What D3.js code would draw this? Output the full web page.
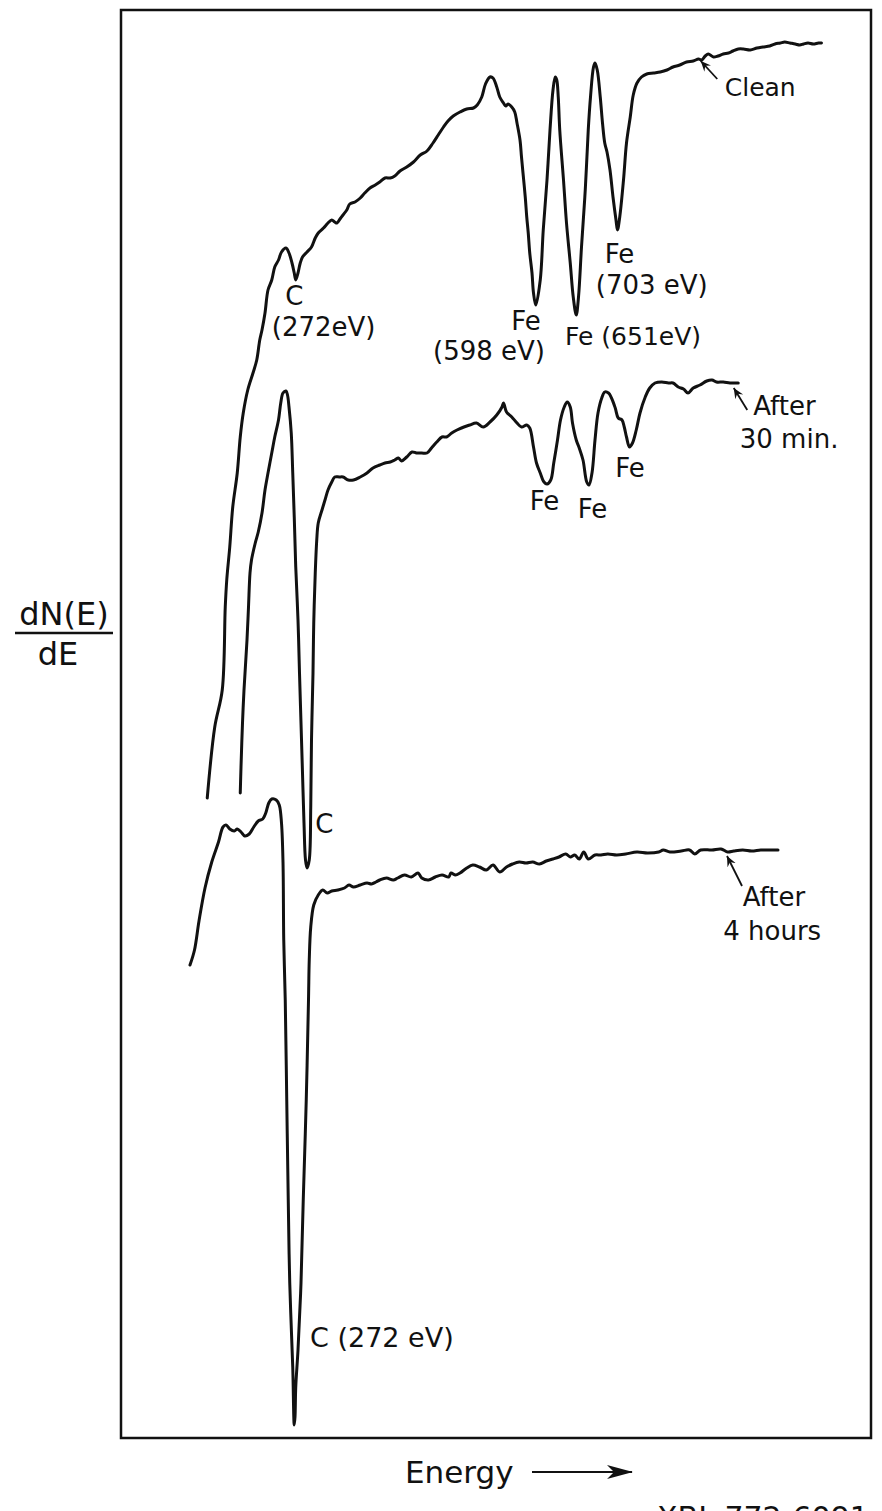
<!DOCTYPE html>
<html>
<head>
<meta charset="utf-8">
<script src="https://cdn.jsdelivr.net/npm/d3@7"></script>
<style>
  body { margin: 0; background: #fff; }
  svg { display: block; }
  text { font-family: "DejaVu Sans", sans-serif; fill: #111; }
</style>
</head>
<body>
<div class="chart"></div>
<script>
// Auger spectra, dN(E)/dE (arbitrary units, curves offset) vs energy (eV)
// values
const clean = [[155,64.0],[165,71.1],[175,74.8],[179,83.1],[181,85.8],[185,89.1],[189,93.1],[195,96.5],[199,100.1],[203,102.5],[209,104.8],[216,106.5],[221,107.8],[225,109.8],[228,110.8],[232,112.5],[236,114.8],[241,115.8],[245,117.1],[250,117.8],[254,118.6],[260,119.0],[264,118.5],[268,117.5],[271,116.5],[273,115.8],[276,116.5],[279,117.5],[282,118.1],[288,118.6],[294,119.1],[299,120.0],[303,120.5],[310,121.0],[316,121.5],[321,121.8],[325,121.6],[328,121.5],[332,121.9],[336,122.3],[341,122.8],[345,123.4],[352,123.6],[359,124.0],[365,124.5],[372,125.0],[379,125.3],[385,125.6],[392,126.0],[399,126.0],[405,126.2],[412,126.7],[421,127.1],[430,127.6],[439,128.3],[448,128.7],[456,129.5],[463,130.3],[470,131.1],[476,131.7],[483,132.2],[492,132.6],[501,132.9],[510,133.0],[515,133.3],[521,134.1],[526,135.4],[532,136.1],[536,136.0],[541,135.1],[545,134.1],[550,133.5],[553,133.2],[556,133.4],[561,133.1],[565,132.6],[568,131.5],[572,129.8],[574,128.1],[576,126.5],[579,124.1],[581,122.1],[583,120.5],[585,118.5],[588,116.5],[590,114.5],[593,113.3],[599,115.8],[603,120.8],[608,125.8],[612,130.8],[616,134.8],[619,136.1],[621,135.8],[623,134.1],[625,130.8],[630,125.8],[634,121.5],[639,117.5],[643,114.1],[647,112.3],[650,114.1],[654,119.1],[659,124.8],[663,130.8],[666,134.1],[670,137.1],[672,137.5],[675,136.8],[679,134.1],[682,131.5],[685,129.5],[688,128.6],[692,126.8],[696,124.1],[700,121.8],[702,120.8],[705,122.1],[710,125.8],[714,129.5],[719,132.1],[723,134.3],[728,135.5],[734,136.1],[741,136.4],[750,136.5],[759,136.6],[768,136.8],[776,137.1],[785,137.3],[794,137.6],[803,137.7],[810,137.9],[814,137.8],[819,138.2],[823,138.4],[830,138.1],[836,138.2],[843,138.4],[850,138.5],[856,138.7],[863,138.9],[870,138.9],[879,138.8],[888,139.0],[896,139.1],[905,139.2],[912,139.4],[919,139.5],[925,139.6],[932,139.5],[939,139.4],[945,139.3],[950,139.4],[956,139.5],[963,139.4],[970,139.5],[974,139.5]];

const after30 = [[199,64.5],[200,67.1],[202,71.5],[204,74.8],[208,79.8],[210,83.1],[212,86.5],[214,87.8],[219,89.5],[223,90.6],[228,92.5],[232,94.8],[236,96.5],[241,98.5],[245,100.1],[250,101.8],[253,103.5],[256,104.5],[260,104.7],[262,104.3],[264,103.1],[267,100.5],[269,96.5],[271,92.1],[273,87.1],[276,81.8],[278,76.5],[280,71.5],[282,66.5],[284,61.5],[286,57.8],[288,57.0],[291,57.8],[293,63.1],[294,69.8],[296,76.5],[297,81.5],[299,86.5],[301,89.8],[303,91.5],[308,92.8],[312,93.8],[316,94.8],[321,95.6],[325,96.1],[331,96.1],[336,96.1],[343,95.8],[350,95.8],[359,96.1],[368,96.5],[376,97.0],[385,97.3],[392,97.5],[399,97.6],[405,97.8],[410,98.0],[414,97.7],[421,98.1],[428,98.6],[434,98.5],[441,98.5],[448,98.5],[454,99.0],[461,99.6],[468,100.1],[474,100.1],[481,100.5],[488,100.8],[494,101.0],[501,101.2],[505,101.3],[514,101.5],[523,101.1],[532,101.6],[541,102.3],[548,103.1],[550,103.5],[554,102.6],[561,102.1],[568,101.5],[574,101.1],[581,101.3],[585,101.0],[590,99.1],[594,97.5],[599,96.5],[604,95.6],[608,95.4],[613,95.8],[617,97.5],[622,99.8],[626,101.8],[631,103.1],[635,103.6],[639,103.1],[642,101.5],[647,99.8],[651,99.0],[656,97.8],[661,95.6],[664,95.3],[668,96.5],[672,99.8],[676,102.5],[681,104.0],[685,104.6],[690,104.5],[694,104.0],[699,103.0],[703,102.0],[708,101.8],[711,101.1],[714,100.1],[718,99.1],[722,99.5],[727,100.8],[732,102.5],[739,104.1],[745,105.0],[752,105.5],[761,105.6],[770,105.5],[776,105.5],[783,105.1],[790,104.9],[796,104.5],[803,105.0],[812,105.3],[821,105.7],[828,105.8],[834,105.6],[843,105.6],[852,105.5],[861,105.5],[863,105.5]];

const after4h = [[132,47.3],[138,48.8],[144,51.7],[152,55.0],[161,57.6],[170,59.6],[176,61.1],[180,61.3],[185,60.9],[191,60.7],[195,60.9],[200,60.6],[205,60.2],[211,60.4],[217,61.1],[223,61.7],[229,61.9],[233,62.5],[237,63.5],[241,63.9],[247,63.8],[251,63.3],[254,61.5],[256,57.6],[257,49.8],[259,43.8],[261,33.8],[263,23.8],[265,15.5],[269,7.1],[271,1.3],[272,2.1],[273,5.1],[276,8.8],[280,15.5],[283,23.8],[287,33.8],[290,43.8],[291,47.8],[293,51.1],[297,53.3],[303,54.3],[309,54.8],[315,54.5],[321,54.7],[329,54.8],[338,55.0],[344,55.3],[350,55.1],[359,55.3],[368,55.5],[374,55.4],[380,55.6],[385,55.8],[394,56.0],[403,55.8],[409,56.0],[418,56.3],[427,56.1],[436,56.5],[441,56.0],[450,55.8],[459,56.1],[468,56.3],[477,56.1],[480,56.5],[486,56.3],[492,56.5],[501,57.0],[509,57.3],[518,57.1],[527,56.8],[536,57.3],[545,56.6],[554,57.1],[562,57.4],[571,57.6],[580,57.5],[589,57.6],[598,57.4],[607,57.7],[616,57.9],[624,58.1],[633,58.4],[639,58.1],[645,58.3],[651,57.9],[657,58.6],[663,57.9],[672,58.3],[680,58.3],[689,58.4],[701,58.3],[713,58.4],[728,58.6],[742,58.5],[757,58.6],[763,58.8],[772,58.6],[787,58.7],[798,58.8],[805,58.4],[813,58.8],[828,58.8],[840,58.9],[849,58.6],[857,58.7],[869,58.8],[881,58.7],[893,58.8],[905,58.8],[916,58.8]];

// peak labels: [energy, signal, text, anchor, font size]
const labels = [
  [271, 113.3, "C", "middle", 26],
  [241, 110.2, "(272eV)", "start", 26],
  [580, 110.8, "Fe", "middle", 26],
  [456, 107.8, "(598 eV)", "start", 26],
  [632, 109.3, "Fe (651eV)", "start", 25],
  [685, 117.5, "Fe", "start", 26],
  [673, 114.4, "(703 eV)", "start", 26],
  [845, 134.2, "Clean", "start", 25],
  [883, 102.3, "After", "start", 26],
  [865, 99.0, "30 min.", "start", 26],
  [585, 92.8, "Fe", "start", 26],
  [649, 92.0, "Fe", "start", 26],
  [699, 96.1, "Fe", "start", 26],
  [299, 60.5, "C", "start", 26],
  [869, 53.2, "After", "start", 26],
  [843, 49.8, "4 hours", "start", 26],
  [292, 9.1, "C (272 eV)", "start", 27]
];

// pointer arrows: [tipE, tipV, tailE, tailV]
const pointers = [
  [813, 137.7, 835, 135.9],
  [857, 105.0, 875, 102.8],
  [848, 58.2, 868, 55.2]
];

let width = 882, height = 1511;
let margin = {top: 10, right: 11, bottom: 73, left: 121};
let w = width - margin.left - margin.right;
let h = height - margin.top - margin.bottom;

let root = d3.select(".chart")
  .append("svg")
    .attr("width", width)
    .attr("height", height);

let defs = root.append("defs");
defs.append("marker")
    .attr("id", "tip")
    .attr("viewBox", "0 0 10 10")
    .attr("refX", 0.5).attr("refY", 5)
    .attr("markerWidth", 11).attr("markerHeight", 11)
    .attr("markerUnits", "userSpaceOnUse")
    .attr("orient", "auto")
  .append("path")
    .attr("d", "M0.5,5 L10,0.8 L6.5,5 L10,9.2 Z")
    .attr("fill", "#111");
defs.append("marker")
    .attr("id", "bigtip")
    .attr("viewBox", "0 0 26 14")
    .attr("refX", 25).attr("refY", 7)
    .attr("markerWidth", 26).attr("markerHeight", 14)
    .attr("markerUnits", "userSpaceOnUse")
    .attr("orient", "auto")
  .append("path")
    .attr("d", "M0,0 L26,7 L0,14 L7,7 Z")
    .attr("fill", "#111");

let svg = root.append("g")
    .attr("transform", "translate(" + margin.left + "," + margin.top + ")");

let x = d3.scaleLinear().domain([40, 1040]).range([0, w]);
let y = d3.scaleLinear().domain([0, 142.8]).range([h, 0]);

// frame
svg.append("rect")
    .attr("x", 0).attr("y", 0)
    .attr("width", w).attr("height", h)
    .attr("fill", "none")
    .attr("stroke", "#111")
    .attr("stroke-width", 2.5);

let line = d3.line()
    .x(function(d) { return x(d[0]); })
    .y(function(d) { return y(d[1]); })
    .curve(d3.curveCatmullRom.alpha(0.5));

[clean, after30, after4h].forEach(function(s) {
  svg.append("path")
      .datum(s)
      .attr("fill", "none")
      .attr("stroke", "#111")
      .attr("stroke-width", 3)
      .attr("stroke-linejoin", "round")
      .attr("stroke-linecap", "round")
      .attr("d", line);
});

svg.selectAll(".plabel")
    .data(labels)
    .enter()
    .append("text")
      .attr("class", "plabel")
      .attr("x", function(d) { return x(d[0]); })
      .attr("y", function(d) { return y(d[1]); })
      .attr("text-anchor", function(d) { return d[3]; })
      .style("font-size", function(d) { return d[4] + "px"; })
      .text(function(d) { return d[2]; });

svg.selectAll(".pointer")
    .data(pointers)
    .enter()
    .append("line")
      .attr("class", "pointer")
      .attr("x1", function(d) { return x(d[0]); })
      .attr("y1", function(d) { return y(d[1]); })
      .attr("x2", function(d) { return x(d[2]); })
      .attr("y2", function(d) { return y(d[3]); })
      .attr("stroke", "#111")
      .attr("stroke-width", 1.8)
      .attr("marker-start", "url(#tip)");

// y label as a fraction
let ylab = root.append("g").attr("transform", "translate(64,0)");
ylab.append("text")
    .attr("x", 0).attr("y", 625)
    .attr("text-anchor", "middle")
    .style("font-size", "32px")
    .text("dN(E)");
ylab.append("line")
    .attr("x1", -49).attr("x2", 49)
    .attr("y1", 633).attr("y2", 633)
    .attr("stroke", "#111").attr("stroke-width", 2.5);
ylab.append("text")
    .attr("x", -6).attr("y", 665)
    .attr("text-anchor", "middle")
    .style("font-size", "32px")
    .text("dE");

// x label with arrow
root.append("text")
    .attr("x", 405).attr("y", 1483)
    .style("font-size", "31px")
    .text("Energy");
root.append("line")
    .attr("x1", 532).attr("x2", 632)
    .attr("y1", 1472).attr("y2", 1472)
    .attr("stroke", "#111").attr("stroke-width", 2)
    .attr("marker-end", "url(#bigtip)");

// figure number, cut by the bottom edge as in the original
root.append("text")
    .attr("x", 657).attr("y", 1528)
    .style("font-size", "30px")
    .text("XBL 772-6091");
</script>
</body>
</html>
